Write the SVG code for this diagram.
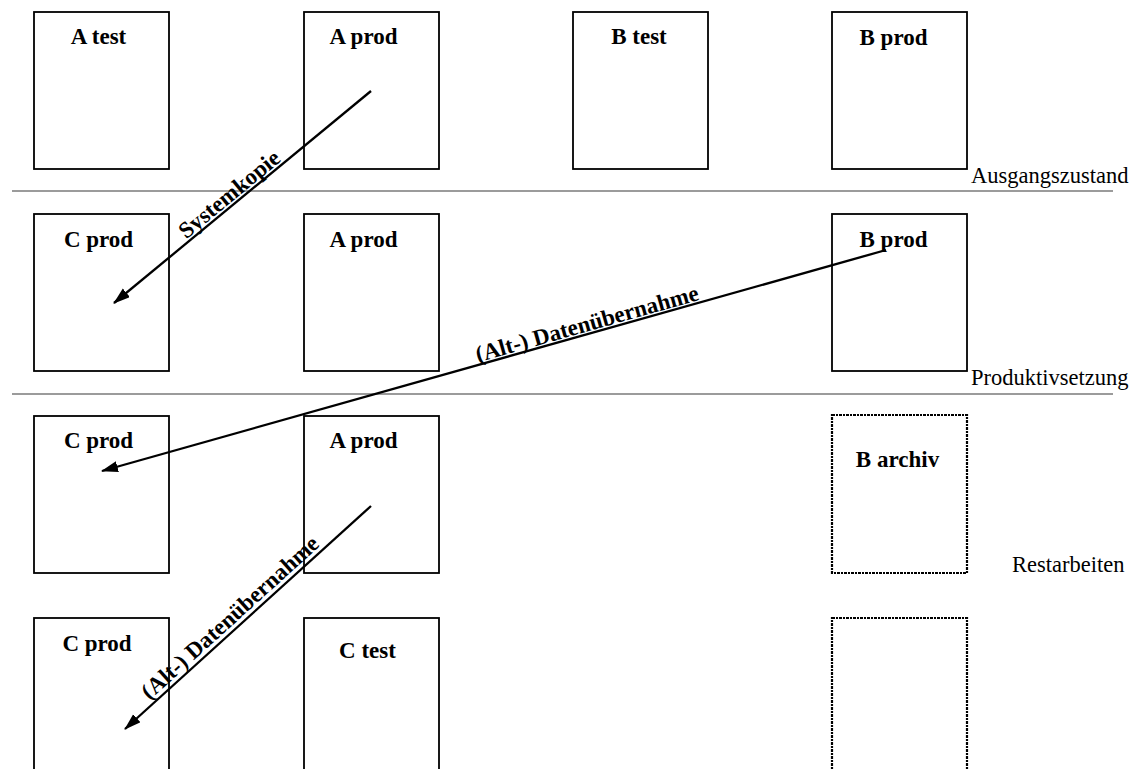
<svg xmlns="http://www.w3.org/2000/svg" width="1136" height="769" viewBox="0 0 1136 769">
<style>
.box{fill:#fff;stroke:#000;stroke-width:1.8}
.dot{fill:#fff;stroke:#000;stroke-width:2.2;stroke-dasharray:3 1 2 1}
.lbl{font-family:"Liberation Serif","Times New Roman",serif;font-weight:bold;font-size:23px;text-anchor:middle;fill:#000}
.phase{font-family:"Liberation Serif","Times New Roman",serif;font-size:22.5px;fill:#000}
.sep{stroke:#7a7a7a;stroke-width:1.5}
.arr{stroke:#000;stroke-width:2.3;fill:none;marker-end:url(#ah)}
</style>
<defs>
<marker id="ah" markerUnits="userSpaceOnUse" markerWidth="18" markerHeight="12" refX="16" refY="5.5" orient="auto">
<path d="M0,0 L17,5.5 L0,11 z" fill="#000"/>
</marker>
</defs>
<g id="separators">
<line class="sep" x1="12" y1="191" x2="1113" y2="191"/>
<line class="sep" x1="12" y1="394" x2="1113" y2="394"/>
</g>
<g id="phase-labels">
<text class="phase" x="971" y="183">Ausgangszustand</text>
<text class="phase" x="971" y="385">Produktivsetzung</text>
<text class="phase" x="1012" y="572">Restarbeiten</text>
</g>
<g id="r1-atest"><rect class="box" x="34" y="12" width="135" height="157"/><text class="lbl" x="98.5" y="44">A test</text></g>
<g id="r1-aprod"><rect class="box" x="304" y="12" width="135" height="157"/><text class="lbl" x="363.5" y="44">A prod</text></g>
<g id="r1-btest"><rect class="box" x="573" y="12" width="135" height="157"/><text class="lbl" x="639" y="44">B test</text></g>
<g id="r1-bprod"><rect class="box" x="832" y="12" width="135" height="157"/><text class="lbl" x="893.5" y="45">B prod</text></g>
<g id="r2-cprod"><rect class="box" x="34" y="214" width="135" height="157"/><text class="lbl" x="98.5" y="247">C prod</text></g>
<g id="r2-aprod"><rect class="box" x="304" y="214" width="135" height="157"/><text class="lbl" x="363.5" y="247">A prod</text></g>
<g id="r2-bprod"><rect class="box" x="832" y="214" width="135" height="157"/><text class="lbl" x="893.5" y="247">B prod</text></g>
<g id="r3-cprod"><rect class="box" x="34" y="416" width="135" height="157"/><text class="lbl" x="98.5" y="448">C prod</text></g>
<g id="r3-aprod"><rect class="box" x="304" y="416" width="135" height="157"/><text class="lbl" x="363.5" y="448">A prod</text></g>
<g id="r3-barchiv"><rect class="dot" x="832" y="415" width="135" height="158"/><text class="lbl" x="897.5" y="467">B archiv</text></g>
<g id="r4-cprod"><rect class="box" x="34" y="618" width="135" height="170"/><text class="lbl" x="97" y="651">C prod</text></g>
<g id="r4-ctest"><rect class="box" x="304" y="618" width="135" height="170"/><text class="lbl" x="367.5" y="658">C test</text></g>
<g id="r4-empty"><rect class="dot" x="832" y="618" width="135" height="170"/></g>
<g id="connectors">
<line class="arr" x1="371" y1="91" x2="114" y2="303"/>
<text class="lbl" x="234" y="200" transform="rotate(-39.5 234 200)">Systemkopie</text>
<line class="arr" x1="886" y1="250" x2="102" y2="471"/>
<text class="lbl" x="589" y="331" transform="rotate(-15.74 589 331)">(Alt-) Datenübernahme</text>
<line class="arr" x1="371" y1="506" x2="125" y2="729"/>
<text class="lbl" x="235" y="623" transform="rotate(-42.2 235 623)">(Alt-) Datenübernahme</text>
</g>
</svg>
